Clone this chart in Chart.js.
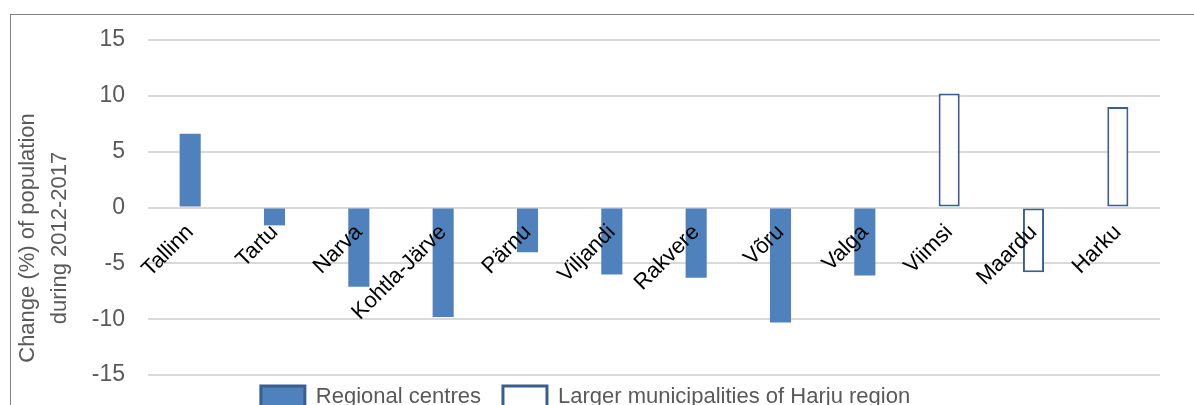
<!DOCTYPE html>
<html>
<head>
<meta charset="utf-8">
<script src="https://cdn.jsdelivr.net/npm/chart.js@4.4.1/dist/chart.umd.min.js"></script>
<style>
  html, body { margin: 0; padding: 0; background: #fff; overflow: hidden; }
  #frame {
    position: absolute; left: 10px; top: 14px;
    width: 1300px; height: 500px;
    border-top: 1px solid #808080; border-left: 1px solid #808080;
  }
  #wrap { position: absolute; left: 0; top: 0; width: 1150px; height: 414px; }
</style>
</head>
<body>
<div id="frame">
  <div id="wrap"><canvas id="chart"></canvas></div>
</div>
<script>
const categories = ["Tallinn", "Tartu", "Narva", "Kohtla-Järve", "Pärnu", "Viljandi",
  "Rakvere", "Võru", "Valga", "Viimsi", "Maardu", "Harku"];
const regionalCentres = [6.6, -1.6, -7.1, -9.8, -4.0, -6.0, -6.3, -10.3, -6.1, null, null, null];
const harjuMunicipalities = [null, null, null, null, null, null, null, null, null, 10.2, -5.8, 9.0];
const yTitle = ["Change (%) of population", "during 2012-2017"];
const yMin = -15, yMax = 15, yStep = 5;

const GREY = "#595959";
const FONT = "'Liberation Sans', Arial, sans-serif";

// y axis title, drawn a bit lower than the chart area centre like the original
const yTitlePlugin = {
  id: "yTitle",
  afterDraw(chart) {
    const ctx = chart.ctx;
    ctx.save();
    ctx.font = "22px " + FONT;
    ctx.fillStyle = GREY;
    ctx.textAlign = "center";
    ctx.textBaseline = "middle";
    const xs = [17, 49];
    yTitle.forEach((line, i) => {
      ctx.save();
      ctx.translate(xs[i], 223);
      ctx.rotate(-Math.PI / 2);
      ctx.fillText(line, 0, 0);
      ctx.restore();
    });
    ctx.restore();
  }
};

// legend items sit close under the plot, wider gap between the two entries
const legendNudge = {
  id: "legendNudge",
  afterLayout(chart) {
    chart.legend.top -= 11;
    chart.legend.bottom -= 11;
  }
};

const ctx = document.getElementById("chart").getContext("2d");
new Chart(ctx, {
  type: "bar",
  data: {
    labels: categories,
    datasets: [
      {
        label: "Regional centres",
        data: regionalCentres,
        backgroundColor: "#4f81bd",
        borderWidth: 0,
        barPercentage: 0.25,
        categoryPercentage: 1
      },
      {
        label: "Larger municipalities of Harju region",
        data: harjuMunicipalities,
        backgroundColor: "#ffffff",
        borderColor: "#3b5f8e",
        borderWidth: 2,
        borderSkipped: false,
        barPercentage: 0.25,
        categoryPercentage: 1
      }
    ]
  },
  options: {
    responsive: true,
    maintainAspectRatio: false,
    animation: false,
    layout: { padding: { top: 25, right: 1, left: 0, bottom: 0 } },
    plugins: {
      tooltip: { enabled: false },
      legend: {
        position: "bottom",
        labels: {
          color: GREY,
          font: { family: FONT, size: 22 },
          boxWidth: 44,
          boxHeight: 22,
          padding: 22,
          generateLabels(chart) {
            const items = Chart.defaults.plugins.legend.labels.generateLabels(chart);
            items.forEach(it => { it.lineWidth = 3; it.strokeStyle = "#3a5f8f"; });
            return items;
          }
        }
      }
    },
    scales: {
      x: {
        stacked: true,
        position: { y: 0 },
        grid: { display: false },
        border: { display: false },
        ticks: {
          z: 1,
          color: "#000000",
          font: { family: FONT, size: 22 },
          minRotation: 45,
          maxRotation: 45,
          autoSkip: false,
          padding: 4
        },
        afterFit(scale) { scale.height = 0; }
      },
      y: {
        min: yMin,
        max: yMax,
        grid: { color: "#d9d9d9", lineWidth: 2, drawTicks: true, tickLength: 20, tickColor: "rgba(0,0,0,0)" },
        border: { display: false },
        ticks: {
          stepSize: yStep,
          color: GREY,
          font: { family: FONT, size: 23 },
          padding: 3
        },
        afterFit(scale) { scale.width = 137; }
      }
    }
  },
  plugins: [yTitlePlugin, legendNudge]
});
</script>
</body>
</html>
